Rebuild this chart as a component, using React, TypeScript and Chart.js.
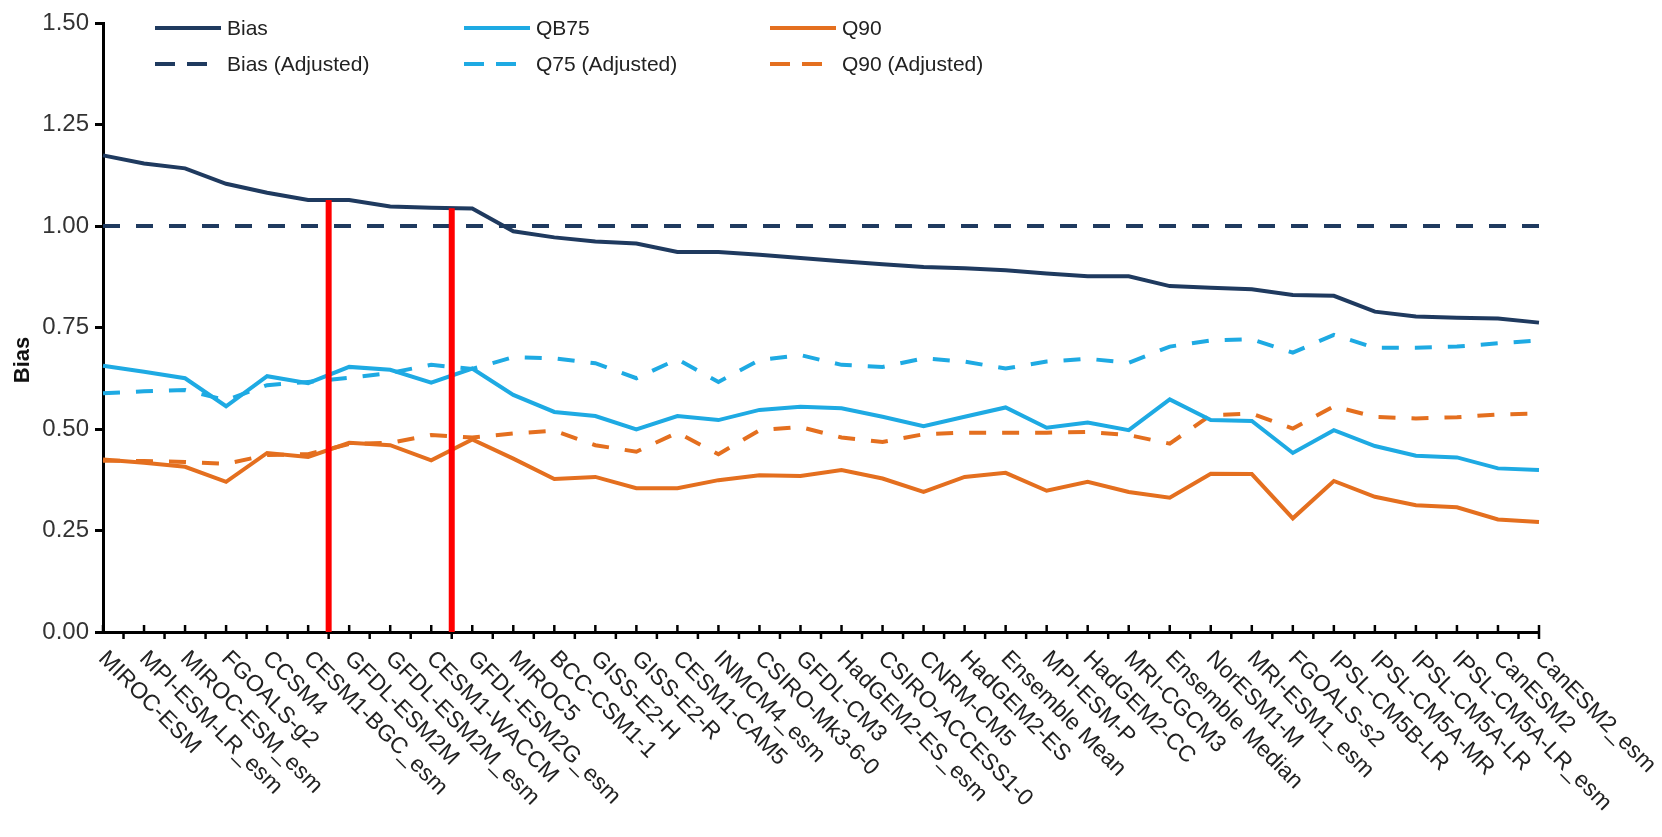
import React, { useEffect, useRef } from "react";
import { Chart, registerables } from "chart.js";

Chart.register(...registerables);

const FONT = '"Liberation Sans", Arial, sans-serif';

const categories = [
  "MIROC-ESM", "MPI-ESM-LR_esm", "MIROC-ESM_esm", "FGOALS-g2", "CCSM4", "CESM1-BGC_esm",
  "GFDL-ESM2M", "GFDL-ESM2M_esm", "CESM1-WACCM", "GFDL-ESM2G_esm", "MIROC5", "BCC-CSM1-1",
  "GISS-E2-H", "GISS-E2-R", "CESM1-CAM5", "INMCM4_esm", "CSIRO-Mk3-6-0", "GFDL-CM3",
  "HadGEM2-ES_esm", "CSIRO-ACCESS1-0", "CNRM-CM5", "HadGEM2-ES", "Ensemble Mean", "MPI-ESM-P",
  "HadGEM2-CC", "MRI-CGCM3", "Ensemble Median", "NorESM1-M", "MRI-ESM1_esm", "FGOALS-s2",
  "IPSL-CM5B-LR", "IPSL-CM5A-MR", "IPSL-CM5A-LR", "IPSL-CM5A-LR_esm", "CanESM2", "CanESM2_esm",
];

const bias = [
  1.174, 1.154, 1.142, 1.104, 1.082, 1.064, 1.064, 1.048, 1.045, 1.043, 0.987, 0.972,
  0.962, 0.957, 0.936, 0.936, 0.929, 0.921, 0.913, 0.906, 0.899, 0.896, 0.891, 0.883,
  0.876, 0.876, 0.852, 0.848, 0.844, 0.830, 0.828, 0.789, 0.777, 0.774, 0.772, 0.762,
];

const qb75 = [
  0.656, 0.641, 0.625, 0.556, 0.630, 0.613, 0.653, 0.646, 0.614, 0.649, 0.584, 0.542,
  0.532, 0.499, 0.532, 0.522, 0.547, 0.555, 0.551, 0.530, 0.507, 0.530, 0.553, 0.503,
  0.516, 0.497, 0.573, 0.522, 0.520, 0.441, 0.497, 0.458, 0.434, 0.430, 0.403, 0.399,
];

const q90 = [
  0.425, 0.417, 0.407, 0.370, 0.441, 0.431, 0.466, 0.460, 0.423, 0.474, 0.427, 0.377,
  0.382, 0.354, 0.354, 0.374, 0.386, 0.384, 0.399, 0.378, 0.345, 0.382, 0.392, 0.348,
  0.370, 0.345, 0.331, 0.390, 0.389, 0.280, 0.372, 0.333, 0.312, 0.307, 0.277, 0.271,
];

const biasAdjusted = [
  1, 1, 1, 1, 1, 1, 1, 1, 1, 1, 1, 1,
  1, 1, 1, 1, 1, 1, 1, 1, 1, 1, 1, 1,
  1, 1, 1, 1, 1, 1, 1, 1, 1, 1, 1, 1,
];

const q75Adjusted = [
  0.588, 0.593, 0.596, 0.571, 0.608, 0.616, 0.626, 0.638, 0.658, 0.648, 0.677, 0.674,
  0.662, 0.625, 0.672, 0.616, 0.670, 0.682, 0.658, 0.653, 0.674, 0.666, 0.649, 0.666,
  0.673, 0.663, 0.703, 0.718, 0.721, 0.688, 0.732, 0.700, 0.700, 0.703, 0.711, 0.718,
];

const q90Adjusted = [
  0.422, 0.421, 0.419, 0.414, 0.436, 0.438, 0.463, 0.466, 0.485, 0.479, 0.489, 0.496,
  0.460, 0.444, 0.491, 0.438, 0.497, 0.505, 0.479, 0.468, 0.487, 0.491, 0.491, 0.491,
  0.493, 0.485, 0.464, 0.534, 0.538, 0.501, 0.556, 0.530, 0.526, 0.529, 0.536, 0.538,
];

// red marker lines: position (in category index units) and top value
const redLineAt = [5.5, 8.5];
const redLineTop = [1.064, 1.044];

const yTickStep = 0.25;
const yMin = 0;
const yMax = 1.5;
const yTitle = "Bias";

const NAVY = "#1f3a5f";
const BLUE = "#1eaae3";
const ORANGE = "#e46f1f";
const DASH = [17, 16];

function pixelAt(scale: any, pos: number) {
  const lo = Math.floor(pos);
  const hi = Math.ceil(pos);
  const a = scale.getPixelForValue(lo);
  const b = scale.getPixelForValue(hi);
  return a + (b - a) * (pos - lo);
}

const overlayPlugin = {
  id: "overlay",
  afterDatasetsDraw(chart: any) {
    const { ctx, scales } = chart;
    const x = scales.x;
    const y = scales.y;
    ctx.save();
    ctx.strokeStyle = "#ff0000";
    ctx.lineWidth = 6;
    redLineAt.forEach((pos, k) => {
      const px = pixelAt(x, pos);
      ctx.beginPath();
      ctx.moveTo(px, y.getPixelForValue(0));
      ctx.lineTo(px, y.getPixelForValue(redLineTop[k]));
      ctx.stroke();
    });
    ctx.restore();
  },
  afterDraw(chart: any) {
    const { ctx, chartArea, scales } = chart;
    const x = scales.x;
    const bottom = chartArea.bottom;
    const n = categories.length;
    ctx.save();
    // x-axis tick marks: up at categories, down at midpoints
    ctx.strokeStyle = "#000";
    ctx.lineWidth = 2.5;
    for (let i = 0; i < n; i++) {
      const px = x.getPixelForValue(i);
      ctx.beginPath();
      ctx.moveTo(px, bottom);
      ctx.lineTo(px, bottom - 7);
      ctx.stroke();
      if (i < n - 1) {
        const mid = pixelAt(x, i + 0.5);
        ctx.beginPath();
        ctx.moveTo(mid, bottom);
        ctx.lineTo(mid, bottom + 7);
        ctx.stroke();
      }
    }
    const last = x.getPixelForValue(n - 1);
    ctx.beginPath();
    ctx.moveTo(last, bottom);
    ctx.lineTo(last, bottom + 7);
    ctx.stroke();

    // rotated category labels
    ctx.fillStyle = "#222";
    ctx.font = `23px ${FONT}`;
    ctx.textAlign = "left";
    ctx.textBaseline = "top";
    categories.forEach((lab, i) => {
      const px = x.getPixelForValue(i);
      ctx.save();
      ctx.translate(px + 7, bottom + 15);
      ctx.rotate(Math.PI / 4);
      ctx.fillText(lab, 0, 0);
      ctx.restore();
    });

    // y axis title
    ctx.save();
    ctx.translate(15, 352);
    ctx.rotate(-Math.PI / 2);
    ctx.font = `bold 22px ${FONT}`;
    ctx.textAlign = "center";
    ctx.textBaseline = "middle";
    ctx.fillStyle = "#111";
    ctx.fillText(yTitle, 0, 0);
    ctx.restore();

    // legend grid (3 columns x 2 rows)
    const colX = [147, 456, 762];
    const rowY = [20, 56];
    ctx.font = `21px ${FONT}`;
    ctx.textBaseline = "middle";
    ctx.textAlign = "left";
    chart.data.datasets.forEach((ds: any, k: number) => {
      const cx = colX[k % 3];
      const cy = rowY[Math.floor(k / 3)];
      ctx.strokeStyle = ds.borderColor;
      ctx.lineWidth = 4;
      ctx.beginPath();
      if (ds.borderDash && ds.borderDash.length) {
        ctx.setLineDash([20, 12]);
        ctx.moveTo(cx, cy);
        ctx.lineTo(cx + 52, cy);
      } else {
        ctx.setLineDash([]);
        ctx.moveTo(cx, cy);
        ctx.lineTo(cx + 66, cy);
      }
      ctx.stroke();
      ctx.setLineDash([]);
      ctx.fillStyle = "#222";
      ctx.fillText(ds.label, cx + 72, cy + 1);
    });
    ctx.restore();
  },
};

export default function App() {
  const canvasRef = useRef<HTMLCanvasElement | null>(null);

  useEffect(() => {
    if (!canvasRef.current) return;
    const mk = (label: string, data: number[], color: string, dashed: boolean) => ({
      label,
      data,
      borderColor: color,
      backgroundColor: color,
      borderWidth: 4,
      borderDash: dashed ? DASH : [],
      pointRadius: 0,
      tension: 0,
      fill: false,
    });
    const chart = new Chart(canvasRef.current, {
      type: "line",
      data: {
        labels: categories,
        datasets: [
          mk("Bias", bias, NAVY, false),
          mk("QB75", qb75, BLUE, false),
          mk("Q90", q90, ORANGE, false),
          mk("Bias (Adjusted)", biasAdjusted, NAVY, true),
          mk("Q75 (Adjusted)", q75Adjusted, BLUE, true),
          mk("Q90 (Adjusted)", q90Adjusted, ORANGE, true),
        ],
      },
      options: {
        animation: false,
        responsive: false,
        layout: { padding: { top: 15, right: 115, bottom: 0, left: 0 } },
        plugins: {
          legend: { display: false },
          tooltip: { enabled: false },
          title: { display: false },
        },
        scales: {
          x: {
            type: "category",
            offset: false,
            ticks: { display: false },
            grid: { display: true, drawOnChartArea: false, drawTicks: false },
            border: { display: true, color: "#000", width: 3 },
            afterFit: (s: any) => {
              s.height = 197;
              s.paddingLeft = 0;
              s.paddingRight = 0;
            },
          },
          y: {
            min: yMin,
            max: yMax,
            ticks: {
              stepSize: yTickStep,
              callback: (v: any) => Number(v).toFixed(2),
              font: { family: FONT, size: 24 },
              color: "#333",
              padding: 6,
            },
            grid: {
              display: true,
              drawOnChartArea: false,
              drawTicks: true,
              tickLength: 8,
              tickColor: "#000",
              tickWidth: 3,
            },
            border: { display: true, color: "#000", width: 3 },
            afterFit: (s: any) => {
              s.width = 95;
              s.paddingTop = 0;
              s.paddingBottom = 0;
            },
          },
        },
      },
      plugins: [overlayPlugin],
    });
    return () => chart.destroy();
  }, []);

  return (
    <div style={{ width: 1646, height: 821, background: "#fff" }}>
      <canvas ref={canvasRef} width={1646} height={821} style={{ display: "block" }} />
    </div>
  );
}
